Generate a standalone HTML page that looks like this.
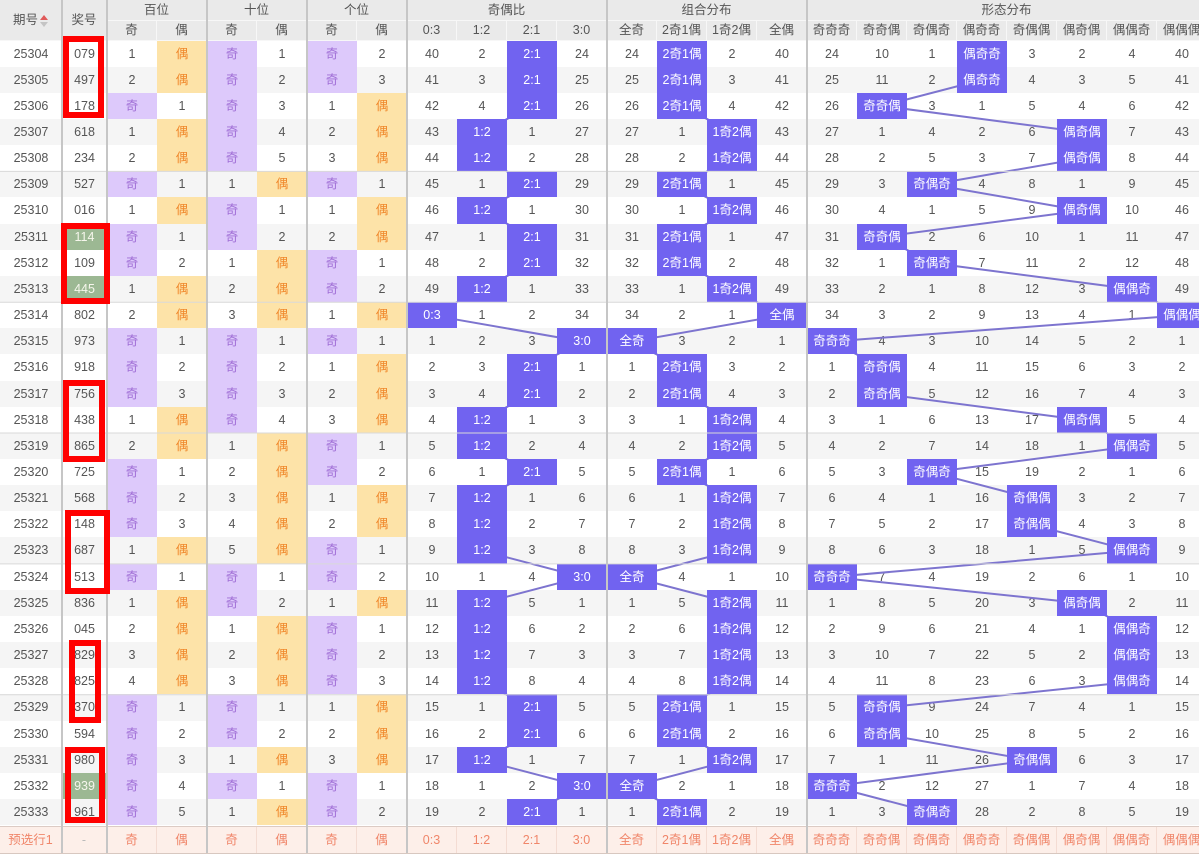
<!DOCTYPE html>
<html><head><meta charset="utf-8">
<style>
*{margin:0;padding:0;box-sizing:border-box}
html,body{width:1199px;height:854px;overflow:hidden;background:#fff}
body{position:relative;font-family:"Liberation Sans","Noto Sans CJK SC",sans-serif;font-size:12.5px;color:#555}
#hd{position:absolute;left:0;top:0;width:1257px;height:40.5px;display:grid;grid-template-columns:62px 45px repeat(22,50px);grid-template-rows:21px 19.5px;background:#eaeaea}
#hd div{text-align:center;border-right:1px solid #f7f7f7;border-bottom:1px solid #f7f7f7;color:#555}
#hd .t{line-height:20px}
#hd .s{line-height:19px}
#hd .rs{grid-row:1/3;line-height:40px}
#b{position:absolute;left:0;top:40.5px;width:1257px}
.r{display:grid;grid-template-columns:62px 45px repeat(22,50px);height:26.17px;width:1257px}
#b .r:nth-child(even){background:#f5f5f5}
.r i{font-style:normal;text-align:center;line-height:26.17px;display:block;white-space:nowrap;overflow:hidden}
.p{background:#ddc9fb;color:#a06ed6}
.y{background:#fde3a8;color:#f0872a}
.r i.h{background:#7163f0;color:#fff;position:relative;z-index:2}
.g{background:#9cb893;color:#f6f6ec}
#ft{position:absolute;left:0;top:825.6px;height:28.4px;background:#fdefe9;border-top:1px solid #dccbc4}
#ft i{line-height:27px;color:#f0866a;border-right:1px solid #f4dcd3}
.rb{position:absolute;border:6px solid #f00;z-index:4}
.arr{display:inline-block;vertical-align:middle;width:8px;height:12px;position:relative;margin-left:2px}
.arr:before{content:"";position:absolute;left:0;top:0;border-left:4px solid transparent;border-right:4px solid transparent;border-bottom:5px solid #e05a5a}
.arr:after{content:"";position:absolute;left:0;top:7px;border-left:4px solid transparent;border-right:4px solid transparent;border-top:5px solid #c4c4c4}
</style></head><body>

<div id="hd">
<div class="rs" style="grid-column:1">期号<span class="arr"></span></div>
<div class="rs" style="grid-column:2">奖号</div>
<div class="t" style="grid-column:3/5">百位</div>
<div class="t" style="grid-column:5/7">十位</div>
<div class="t" style="grid-column:7/9">个位</div>
<div class="t" style="grid-column:9/13">奇偶比</div>
<div class="t" style="grid-column:13/17">组合分布</div>
<div class="t" style="grid-column:17/25">形态分布</div>
<div class="s" style="grid-column:3;grid-row:2">奇</div><div class="s" style="grid-column:4;grid-row:2">偶</div>
<div class="s" style="grid-column:5;grid-row:2">奇</div><div class="s" style="grid-column:6;grid-row:2">偶</div>
<div class="s" style="grid-column:7;grid-row:2">奇</div><div class="s" style="grid-column:8;grid-row:2">偶</div>
<div class="s" style="grid-column:9;grid-row:2">0:3</div><div class="s" style="grid-column:10;grid-row:2">1:2</div>
<div class="s" style="grid-column:11;grid-row:2">2:1</div><div class="s" style="grid-column:12;grid-row:2">3:0</div>
<div class="s" style="grid-column:13;grid-row:2">全奇</div><div class="s" style="grid-column:14;grid-row:2">2奇1偶</div>
<div class="s" style="grid-column:15;grid-row:2">1奇2偶</div><div class="s" style="grid-column:16;grid-row:2">全偶</div>
<div class="s" style="grid-column:17;grid-row:2">奇奇奇</div><div class="s" style="grid-column:18;grid-row:2">奇奇偶</div>
<div class="s" style="grid-column:19;grid-row:2">奇偶奇</div><div class="s" style="grid-column:20;grid-row:2">偶奇奇</div>
<div class="s" style="grid-column:21;grid-row:2">奇偶偶</div><div class="s" style="grid-column:22;grid-row:2">偶奇偶</div>
<div class="s" style="grid-column:23;grid-row:2">偶偶奇</div><div class="s" style="grid-column:24;grid-row:2">偶偶偶</div>
</div>

<div id="b">
<div class="r"><i>25304</i><i>079</i><i>1</i><i class="y">偶</i><i class="p">奇</i><i>1</i><i class="p">奇</i><i>2</i><i>40</i><i>2</i><i class="h">2:1</i><i>24</i><i>24</i><i class="h">2奇1偶</i><i>2</i><i>40</i><i>24</i><i>10</i><i>1</i><i class="h">偶奇奇</i><i>3</i><i>2</i><i>4</i><i>40</i></div>
<div class="r"><i>25305</i><i>497</i><i>2</i><i class="y">偶</i><i class="p">奇</i><i>2</i><i class="p">奇</i><i>3</i><i>41</i><i>3</i><i class="h">2:1</i><i>25</i><i>25</i><i class="h">2奇1偶</i><i>3</i><i>41</i><i>25</i><i>11</i><i>2</i><i class="h">偶奇奇</i><i>4</i><i>3</i><i>5</i><i>41</i></div>
<div class="r"><i>25306</i><i>178</i><i class="p">奇</i><i>1</i><i class="p">奇</i><i>3</i><i>1</i><i class="y">偶</i><i>42</i><i>4</i><i class="h">2:1</i><i>26</i><i>26</i><i class="h">2奇1偶</i><i>4</i><i>42</i><i>26</i><i class="h">奇奇偶</i><i>3</i><i>1</i><i>5</i><i>4</i><i>6</i><i>42</i></div>
<div class="r"><i>25307</i><i>618</i><i>1</i><i class="y">偶</i><i class="p">奇</i><i>4</i><i>2</i><i class="y">偶</i><i>43</i><i class="h">1:2</i><i>1</i><i>27</i><i>27</i><i>1</i><i class="h">1奇2偶</i><i>43</i><i>27</i><i>1</i><i>4</i><i>2</i><i>6</i><i class="h">偶奇偶</i><i>7</i><i>43</i></div>
<div class="r"><i>25308</i><i>234</i><i>2</i><i class="y">偶</i><i class="p">奇</i><i>5</i><i>3</i><i class="y">偶</i><i>44</i><i class="h">1:2</i><i>2</i><i>28</i><i>28</i><i>2</i><i class="h">1奇2偶</i><i>44</i><i>28</i><i>2</i><i>5</i><i>3</i><i>7</i><i class="h">偶奇偶</i><i>8</i><i>44</i></div>
<div class="r"><i>25309</i><i>527</i><i class="p">奇</i><i>1</i><i>1</i><i class="y">偶</i><i class="p">奇</i><i>1</i><i>45</i><i>1</i><i class="h">2:1</i><i>29</i><i>29</i><i class="h">2奇1偶</i><i>1</i><i>45</i><i>29</i><i>3</i><i class="h">奇偶奇</i><i>4</i><i>8</i><i>1</i><i>9</i><i>45</i></div>
<div class="r"><i>25310</i><i>016</i><i>1</i><i class="y">偶</i><i class="p">奇</i><i>1</i><i>1</i><i class="y">偶</i><i>46</i><i class="h">1:2</i><i>1</i><i>30</i><i>30</i><i>1</i><i class="h">1奇2偶</i><i>46</i><i>30</i><i>4</i><i>1</i><i>5</i><i>9</i><i class="h">偶奇偶</i><i>10</i><i>46</i></div>
<div class="r"><i>25311</i><i class="g">114</i><i class="p">奇</i><i>1</i><i class="p">奇</i><i>2</i><i>2</i><i class="y">偶</i><i>47</i><i>1</i><i class="h">2:1</i><i>31</i><i>31</i><i class="h">2奇1偶</i><i>1</i><i>47</i><i>31</i><i class="h">奇奇偶</i><i>2</i><i>6</i><i>10</i><i>1</i><i>11</i><i>47</i></div>
<div class="r"><i>25312</i><i>109</i><i class="p">奇</i><i>2</i><i>1</i><i class="y">偶</i><i class="p">奇</i><i>1</i><i>48</i><i>2</i><i class="h">2:1</i><i>32</i><i>32</i><i class="h">2奇1偶</i><i>2</i><i>48</i><i>32</i><i>1</i><i class="h">奇偶奇</i><i>7</i><i>11</i><i>2</i><i>12</i><i>48</i></div>
<div class="r"><i>25313</i><i class="g">445</i><i>1</i><i class="y">偶</i><i>2</i><i class="y">偶</i><i class="p">奇</i><i>2</i><i>49</i><i class="h">1:2</i><i>1</i><i>33</i><i>33</i><i>1</i><i class="h">1奇2偶</i><i>49</i><i>33</i><i>2</i><i>1</i><i>8</i><i>12</i><i>3</i><i class="h">偶偶奇</i><i>49</i></div>
<div class="r"><i>25314</i><i>802</i><i>2</i><i class="y">偶</i><i>3</i><i class="y">偶</i><i>1</i><i class="y">偶</i><i class="h">0:3</i><i>1</i><i>2</i><i>34</i><i>34</i><i>2</i><i>1</i><i class="h">全偶</i><i>34</i><i>3</i><i>2</i><i>9</i><i>13</i><i>4</i><i>1</i><i class="h">偶偶偶</i></div>
<div class="r"><i>25315</i><i>973</i><i class="p">奇</i><i>1</i><i class="p">奇</i><i>1</i><i class="p">奇</i><i>1</i><i>1</i><i>2</i><i>3</i><i class="h">3:0</i><i class="h">全奇</i><i>3</i><i>2</i><i>1</i><i class="h">奇奇奇</i><i>4</i><i>3</i><i>10</i><i>14</i><i>5</i><i>2</i><i>1</i></div>
<div class="r"><i>25316</i><i>918</i><i class="p">奇</i><i>2</i><i class="p">奇</i><i>2</i><i>1</i><i class="y">偶</i><i>2</i><i>3</i><i class="h">2:1</i><i>1</i><i>1</i><i class="h">2奇1偶</i><i>3</i><i>2</i><i>1</i><i class="h">奇奇偶</i><i>4</i><i>11</i><i>15</i><i>6</i><i>3</i><i>2</i></div>
<div class="r"><i>25317</i><i>756</i><i class="p">奇</i><i>3</i><i class="p">奇</i><i>3</i><i>2</i><i class="y">偶</i><i>3</i><i>4</i><i class="h">2:1</i><i>2</i><i>2</i><i class="h">2奇1偶</i><i>4</i><i>3</i><i>2</i><i class="h">奇奇偶</i><i>5</i><i>12</i><i>16</i><i>7</i><i>4</i><i>3</i></div>
<div class="r"><i>25318</i><i>438</i><i>1</i><i class="y">偶</i><i class="p">奇</i><i>4</i><i>3</i><i class="y">偶</i><i>4</i><i class="h">1:2</i><i>1</i><i>3</i><i>3</i><i>1</i><i class="h">1奇2偶</i><i>4</i><i>3</i><i>1</i><i>6</i><i>13</i><i>17</i><i class="h">偶奇偶</i><i>5</i><i>4</i></div>
<div class="r"><i>25319</i><i>865</i><i>2</i><i class="y">偶</i><i>1</i><i class="y">偶</i><i class="p">奇</i><i>1</i><i>5</i><i class="h">1:2</i><i>2</i><i>4</i><i>4</i><i>2</i><i class="h">1奇2偶</i><i>5</i><i>4</i><i>2</i><i>7</i><i>14</i><i>18</i><i>1</i><i class="h">偶偶奇</i><i>5</i></div>
<div class="r"><i>25320</i><i>725</i><i class="p">奇</i><i>1</i><i>2</i><i class="y">偶</i><i class="p">奇</i><i>2</i><i>6</i><i>1</i><i class="h">2:1</i><i>5</i><i>5</i><i class="h">2奇1偶</i><i>1</i><i>6</i><i>5</i><i>3</i><i class="h">奇偶奇</i><i>15</i><i>19</i><i>2</i><i>1</i><i>6</i></div>
<div class="r"><i>25321</i><i>568</i><i class="p">奇</i><i>2</i><i>3</i><i class="y">偶</i><i>1</i><i class="y">偶</i><i>7</i><i class="h">1:2</i><i>1</i><i>6</i><i>6</i><i>1</i><i class="h">1奇2偶</i><i>7</i><i>6</i><i>4</i><i>1</i><i>16</i><i class="h">奇偶偶</i><i>3</i><i>2</i><i>7</i></div>
<div class="r"><i>25322</i><i>148</i><i class="p">奇</i><i>3</i><i>4</i><i class="y">偶</i><i>2</i><i class="y">偶</i><i>8</i><i class="h">1:2</i><i>2</i><i>7</i><i>7</i><i>2</i><i class="h">1奇2偶</i><i>8</i><i>7</i><i>5</i><i>2</i><i>17</i><i class="h">奇偶偶</i><i>4</i><i>3</i><i>8</i></div>
<div class="r"><i>25323</i><i>687</i><i>1</i><i class="y">偶</i><i>5</i><i class="y">偶</i><i class="p">奇</i><i>1</i><i>9</i><i class="h">1:2</i><i>3</i><i>8</i><i>8</i><i>3</i><i class="h">1奇2偶</i><i>9</i><i>8</i><i>6</i><i>3</i><i>18</i><i>1</i><i>5</i><i class="h">偶偶奇</i><i>9</i></div>
<div class="r"><i>25324</i><i>513</i><i class="p">奇</i><i>1</i><i class="p">奇</i><i>1</i><i class="p">奇</i><i>2</i><i>10</i><i>1</i><i>4</i><i class="h">3:0</i><i class="h">全奇</i><i>4</i><i>1</i><i>10</i><i class="h">奇奇奇</i><i>7</i><i>4</i><i>19</i><i>2</i><i>6</i><i>1</i><i>10</i></div>
<div class="r"><i>25325</i><i>836</i><i>1</i><i class="y">偶</i><i class="p">奇</i><i>2</i><i>1</i><i class="y">偶</i><i>11</i><i class="h">1:2</i><i>5</i><i>1</i><i>1</i><i>5</i><i class="h">1奇2偶</i><i>11</i><i>1</i><i>8</i><i>5</i><i>20</i><i>3</i><i class="h">偶奇偶</i><i>2</i><i>11</i></div>
<div class="r"><i>25326</i><i>045</i><i>2</i><i class="y">偶</i><i>1</i><i class="y">偶</i><i class="p">奇</i><i>1</i><i>12</i><i class="h">1:2</i><i>6</i><i>2</i><i>2</i><i>6</i><i class="h">1奇2偶</i><i>12</i><i>2</i><i>9</i><i>6</i><i>21</i><i>4</i><i>1</i><i class="h">偶偶奇</i><i>12</i></div>
<div class="r"><i>25327</i><i>829</i><i>3</i><i class="y">偶</i><i>2</i><i class="y">偶</i><i class="p">奇</i><i>2</i><i>13</i><i class="h">1:2</i><i>7</i><i>3</i><i>3</i><i>7</i><i class="h">1奇2偶</i><i>13</i><i>3</i><i>10</i><i>7</i><i>22</i><i>5</i><i>2</i><i class="h">偶偶奇</i><i>13</i></div>
<div class="r"><i>25328</i><i>825</i><i>4</i><i class="y">偶</i><i>3</i><i class="y">偶</i><i class="p">奇</i><i>3</i><i>14</i><i class="h">1:2</i><i>8</i><i>4</i><i>4</i><i>8</i><i class="h">1奇2偶</i><i>14</i><i>4</i><i>11</i><i>8</i><i>23</i><i>6</i><i>3</i><i class="h">偶偶奇</i><i>14</i></div>
<div class="r"><i>25329</i><i>370</i><i class="p">奇</i><i>1</i><i class="p">奇</i><i>1</i><i>1</i><i class="y">偶</i><i>15</i><i>1</i><i class="h">2:1</i><i>5</i><i>5</i><i class="h">2奇1偶</i><i>1</i><i>15</i><i>5</i><i class="h">奇奇偶</i><i>9</i><i>24</i><i>7</i><i>4</i><i>1</i><i>15</i></div>
<div class="r"><i>25330</i><i>594</i><i class="p">奇</i><i>2</i><i class="p">奇</i><i>2</i><i>2</i><i class="y">偶</i><i>16</i><i>2</i><i class="h">2:1</i><i>6</i><i>6</i><i class="h">2奇1偶</i><i>2</i><i>16</i><i>6</i><i class="h">奇奇偶</i><i>10</i><i>25</i><i>8</i><i>5</i><i>2</i><i>16</i></div>
<div class="r"><i>25331</i><i>980</i><i class="p">奇</i><i>3</i><i>1</i><i class="y">偶</i><i>3</i><i class="y">偶</i><i>17</i><i class="h">1:2</i><i>1</i><i>7</i><i>7</i><i>1</i><i class="h">1奇2偶</i><i>17</i><i>7</i><i>1</i><i>11</i><i>26</i><i class="h">奇偶偶</i><i>6</i><i>3</i><i>17</i></div>
<div class="r"><i>25332</i><i class="g">939</i><i class="p">奇</i><i>4</i><i class="p">奇</i><i>1</i><i class="p">奇</i><i>1</i><i>18</i><i>1</i><i>2</i><i class="h">3:0</i><i class="h">全奇</i><i>2</i><i>1</i><i>18</i><i class="h">奇奇奇</i><i>2</i><i>12</i><i>27</i><i>1</i><i>7</i><i>4</i><i>18</i></div>
<div class="r"><i>25333</i><i>961</i><i class="p">奇</i><i>5</i><i>1</i><i class="y">偶</i><i class="p">奇</i><i>2</i><i>19</i><i>2</i><i class="h">2:1</i><i>1</i><i>1</i><i class="h">2奇1偶</i><i>2</i><i>19</i><i>1</i><i>3</i><i class="h">奇偶奇</i><i>28</i><i>2</i><i>8</i><i>5</i><i>19</i></div>
</div>

<div id="ft" class="r"><i>预选行1</i><i style="color:#bbb">-</i><i>奇</i><i>偶</i><i>奇</i><i>偶</i><i>奇</i><i>偶</i><i>0:3</i><i>1:2</i><i>2:1</i><i>3:0</i><i>全奇</i><i>2奇1偶</i><i>1奇2偶</i><i>全偶</i><i>奇奇奇</i><i>奇奇偶</i><i>奇偶奇</i><i>偶奇奇</i><i>奇偶偶</i><i>偶奇偶</i><i>偶偶奇</i><i>偶偶偶</i></div>

<svg style="position:absolute;left:0;top:0;z-index:1" width="1199" height="854">
<g fill="none" stroke="#7d74cf" stroke-width="2">
<polyline points="532,53.6 532,79.8 532,105.9 482,132.1 482,158.3 532,184.5 482,210.6 532,236.8 532,263 482,289.1 432,315.3 582,341.5 532,367.6 532,393.8 482,420 482,446.2 532,472.3 482,498.5 482,524.7 482,550.8 582,577 482,603.2 482,629.3 482,655.5 482,681.7 532,707.9 532,734 482,760.2 582,786.4 532,812.5"/>
<polyline points="682,53.6 682,79.8 682,105.9 732,132.1 732,158.3 682,184.5 732,210.6 682,236.8 682,263 732,289.1 782,315.3 632,341.5 682,367.6 682,393.8 732,420 732,446.2 682,472.3 732,498.5 732,524.7 732,550.8 632,577 732,603.2 732,629.3 732,655.5 732,681.7 682,707.9 682,734 732,760.2 632,786.4 682,812.5"/>
<polyline points="982,53.6 982,79.8 882,105.9 1082,132.1 1082,158.3 932,184.5 1082,210.6 882,236.8 932,263 1132,289.1 1182,315.3 832,341.5 882,367.6 882,393.8 1082,420 1132,446.2 932,472.3 1032,498.5 1032,524.7 1132,550.8 832,577 1082,603.2 1132,629.3 1132,655.5 1132,681.7 882,707.9 882,734 1032,760.2 832,786.4 932,812.5"/>
</g>
</svg>

<svg style="position:absolute;left:0;top:0;z-index:3" width="1199" height="854">
<g stroke="#d9d9d9" stroke-width="1">
<line x1="0" y1="171.35" x2="1199" y2="171.35"/>
<line x1="0" y1="302.2" x2="1199" y2="302.2"/>
<line x1="0" y1="433.05" x2="1199" y2="433.05"/>
<line x1="0" y1="563.9" x2="1199" y2="563.9"/>
<line x1="0" y1="694.75" x2="1199" y2="694.75"/>
</g>
<g stroke="#c6c6c6" stroke-width="2">
<line x1="62" y1="0" x2="62" y2="854"/>
<line x1="107" y1="0" x2="107" y2="854"/>
<line x1="207" y1="0" x2="207" y2="854"/>
<line x1="307" y1="0" x2="307" y2="854"/>
<line x1="407" y1="0" x2="407" y2="854"/>
<line x1="607" y1="0" x2="607" y2="854"/>
<line x1="807" y1="0" x2="807" y2="854"/>
</g>
<line x1="0" y1="853.5" x2="1199" y2="853.5" stroke="#d8c8c0" stroke-width="1"/>
</svg>

<div class="rb" style="left:63px;top:36px;width:41px;height:82px"></div>
<div class="rb" style="left:61px;top:223px;width:49px;height:81px"></div>
<div class="rb" style="left:63px;top:380px;width:42px;height:82px"></div>
<div class="rb" style="left:65px;top:510px;width:45px;height:84px"></div>
<div class="rb" style="left:69px;top:640px;width:32px;height:83px"></div>
<div class="rb" style="left:65px;top:747px;width:40px;height:76px"></div>

</body></html>
